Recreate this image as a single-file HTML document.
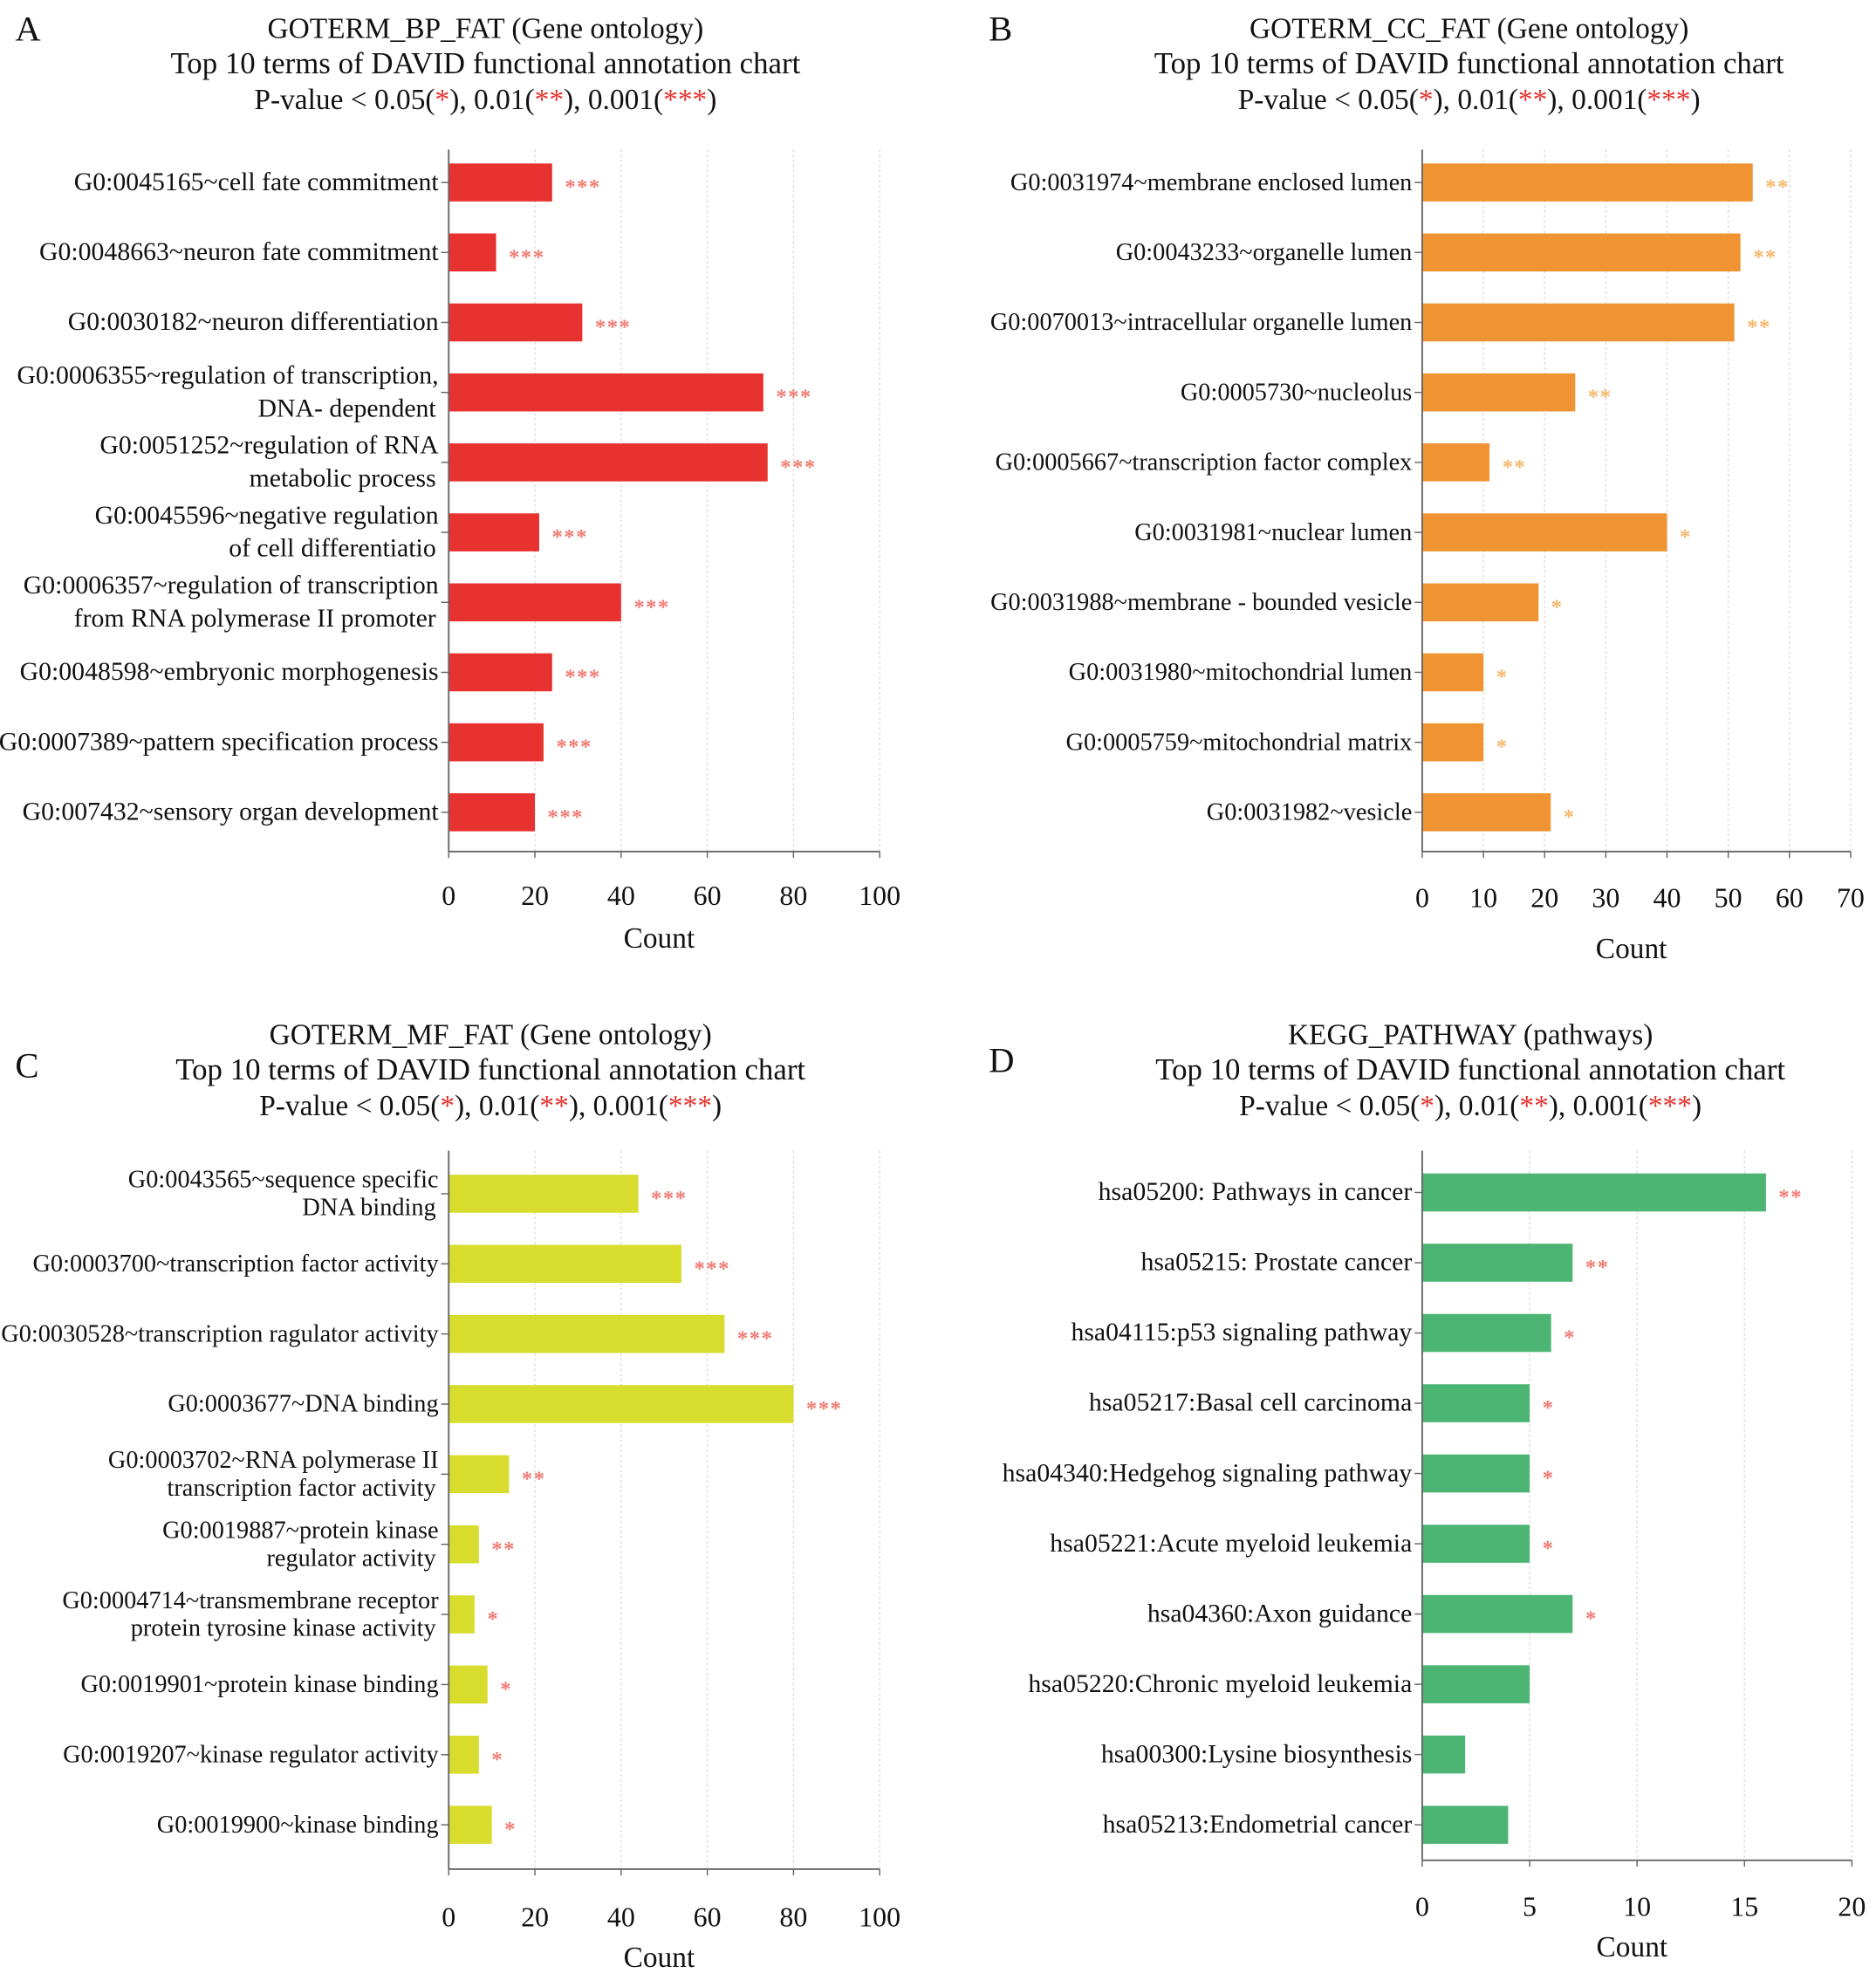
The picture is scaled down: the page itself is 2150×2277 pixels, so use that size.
<!DOCTYPE html>
<html><head><meta charset="utf-8">
<style>
html,body{margin:0;padding:0;background:#fff;}
svg{display:block;}
text{font-family:"Liberation Serif",serif;fill:#111;}
</style></head>
<body>
<svg id="fig" width="2150" height="2277" viewBox="0 0 1480 1568" preserveAspectRatio="none" xmlns="http://www.w3.org/2000/svg"></svg>
<script>
// Panel A data
const catsA = ["G0:0045165~cell fate commitment","G0:0048663~neuron fate commitment","G0:0030182~neuron differentiation","G0:0006355~regulation of transcription,\nDNA- dependent","G0:0051252~regulation of RNA\nmetabolic process","G0:0045596~negative regulation\nof cell differentiatio","G0:0006357~regulation of transcription\nfrom RNA polymerase II promoter","G0:0048598~embryonic morphogenesis","G0:0007389~pattern specification process","G0:007432~sensory organ development"];
const valsA = [24,11,31,73,74,21,40,24,22,20];
const starsA = ["***","***","***","***","***","***","***","***","***","***"];
const ticksA = [0,20,40,60,80,100];
// Panel B data
const catsB = ["G0:0031974~membrane  enclosed  lumen","G0:0043233~organelle lumen","G0:0070013~intracellular organelle lumen","G0:0005730~nucleolus","G0:0005667~transcription factor complex","G0:0031981~nuclear lumen","G0:0031988~membrane - bounded vesicle","G0:0031980~mitochondrial lumen","G0:0005759~mitochondrial matrix","G0:0031982~vesicle"];
const valsB = [54,52,51,25,11,40,19,10,10,21];
const starsB = ["**","**","**","**","**","*","*","*","*","*"];
const ticksB = [0,10,20,30,40,50,60,70];
// Panel C data
const catsC = ["G0:0043565~sequence specific\nDNA binding","G0:0003700~transcription factor activity","G0:0030528~transcription ragulator activity","G0:0003677~DNA  binding","G0:0003702~RNA polymerase II\ntranscription factor activity","G0:0019887~protein kinase\nregulator activity","G0:0004714~transmembrane receptor\nprotein tyrosine kinase activity","G0:0019901~protein kinase binding","G0:0019207~kinase regulator activity","G0:0019900~kinase binding"];
const valsC = [44,54,64,80,14,7,6,9,7,10];
const starsC = ["***","***","***","***","**","**","*","*","*","*"];
const ticksC = [0,20,40,60,80,100];
// Panel D data
const catsD = ["hsa05200: Pathways in cancer","hsa05215: Prostate cancer","hsa04115:p53 signaling pathway","hsa05217:Basal cell carcinoma","hsa04340:Hedgehog signaling pathway","hsa05221:Acute myeloid leukemia","hsa04360:Axon guidance","hsa05220:Chronic myeloid leukemia","hsa00300:Lysine biosynthesis","hsa05213:Endometrial cancer"];
const valsD = [16,7,6,5,5,5,7,5,2,4];
const starsD = ["**","**","*","*","*","*","*","","",""];
const ticksD = [0,5,10,15,20];

const NS="http://www.w3.org/2000/svg";
const svg=document.getElementById('fig');
function mk(tag,attrs,parent){const e=document.createElementNS(NS,tag);for(const k in attrs)e.setAttribute(k,attrs[k]);(parent||svg).appendChild(e);return e;}

function panel(cfg){
  const g=mk('g',{});
  
  
  const x=v=>cfg.x0+(v-cfg.min)/(cfg.max-cfg.min)*(cfg.x1-cfg.x0);
  const n=cfg.cats.length;
  const y=i=>cfg.yc0+i*(cfg.yc1-cfg.yc0)/(n-1);
  const L=mk('text',{x:cfg.lx,y:cfg.ly,'font-size':28},g);L.textContent=cfg.letter;
  
  
  const tx=cfg.tx;
  const t1=mk('text',{x:tx,y:cfg.ty,'text-anchor':'middle','font-size':23},g);t1.textContent=cfg.title;
  
  
  const t2=mk('text',{x:tx,y:cfg.ty+28,'text-anchor':'middle','font-size':24},g);t2.textContent="Top 10  terms of DAVID  functional annotation chart";
  
  
  const t3=mk('text',{x:tx,y:cfg.ty+56,'text-anchor':'middle','font-size':23},g);
  
  
  const parts=[["P-value < 0.05(",0],["*",1],["), 0.01(",0],["**",1],["), 0.001(",0],["***",1],[")",0]];
  parts.forEach(p=>{const s=mk('tspan',{},t3);s.textContent=p[0];if(p[1])s.setAttribute('style','fill:#e8322f');});
  cfg.ticks.forEach(v=>{
    if(v!==cfg.min){const gl=mk('line',{x1:x(v),x2:x(v),y1:cfg.ytop,y2:cfg.ybot,stroke:'#ddd','stroke-width':1,'stroke-dasharray':'2,2'},g);
    
    }
    const tk=mk('line',{x1:x(v),x2:x(v),y1:cfg.ybot,y2:cfg.ybot+5,stroke:'#666','stroke-width':1},g);
    
    
    const tl=mk('text',{x:x(v),y:cfg.tly,'text-anchor':'middle','font-size':22},g);tl.textContent=v;
    
    
  });
  cfg.vals.forEach((v,i)=>{
    const r=mk('rect',{x:x(cfg.min),y:y(i)-cfg.bh/2,width:x(v)-x(cfg.min),height:cfg.bh,fill:cfg.color},g);
    
    
    if(cfg.stars[i]){
      const s=mk('text',{x:x(v)+10,y:y(i)+9,'font-size':17,'font-weight':'bold','font-family':'Liberation Sans',style:'fill:'+cfg.starColor+';letter-spacing:1px'},g);s.textContent=cfg.stars[i];
      
      
    }
    const tk=mk('line',{x1:x(cfg.min)-6,x2:x(cfg.min),y1:y(i),y2:y(i),stroke:'#666','stroke-width':1},g);
    
    
    const lines=cfg.cats[i].split("\n");
    const lt=mk('text',{x:x(cfg.min)-8,y:0,'text-anchor':'end','font-size':cfg.fs},g);
    
    
    lines.forEach((ln,j)=>{const sp=mk('tspan',{x:x(cfg.min)-(lines.length>1&&j>0?10:8),y:y(i)+6+(lines.length>1?(j-0.5)*(cfg.lh):0)},lt);sp.textContent=ln;});
  });
  const ay=mk('line',{x1:x(cfg.min),x2:x(cfg.min),y1:cfg.ytop,y2:cfg.ybot,stroke:'#666','stroke-width':1.3},g);
  
  
  const ax=mk('line',{x1:x(cfg.min),x2:x(cfg.max),y1:cfg.ybot,y2:cfg.ybot,stroke:'#666','stroke-width':1.3},g);
  
  
  const xt=mk('text',{x:(x(cfg.min)+x(cfg.max))/2-4,y:cfg.cy,'text-anchor':'middle','font-size':23},g);xt.textContent="Count";
  
  
}

panel({name:'panel-a-bp',letter:'A',lx:12,ly:32,tx:383,ty:30,title:'GOTERM_BP_FAT (Gene ontology)',cats:catsA,vals:valsA,stars:starsA,ticks:ticksA,min:0,max:100,x0:354,x1:694,yc0:144,yc1:641,ytop:118,ybot:672,bh:30,tly:714,cy:748,color:'#e8322f',starColor:'#f07a72',fs:20.5,lh:26});
panel({name:'panel-b-cc',letter:'B',lx:780,ly:32,tx:1159,ty:30,title:'GOTERM_CC_FAT (Gene ontology)',cats:catsB,vals:valsB,stars:starsB,ticks:ticksB,min:0,max:70,x0:1122,x1:1460,yc0:144,yc1:641,ytop:118,ybot:672,bh:30,tly:716,cy:756,color:'#f09433',starColor:'#f5b76a',fs:19.5,lh:26});
panel({name:'panel-c-mf',letter:'C',lx:12,ly:850,tx:387,ty:824,title:'GOTERM_MF_FAT (Gene ontology)',cats:catsC,vals:valsC,stars:starsC,ticks:ticksC,min:0,max:100,x0:354,x1:694,yc0:942,yc1:1440,ytop:908,ybot:1475,bh:30,tly:1520,cy:1552,color:'#d8dc2c',starColor:'#f07a72',fs:19.5,lh:22});
panel({name:'panel-d-kegg',letter:'D',lx:780,ly:846,tx:1160,ty:824,title:'KEGG_PATHWAY (pathways)',cats:catsD,vals:valsD,stars:starsD,ticks:ticksD,min:0,max:20,x0:1122,x1:1461,yc0:941,yc1:1440,ytop:908,ybot:1468,bh:30,tly:1512,cy:1544,color:'#4cb574',starColor:'#f07a72',fs:20.5,lh:26});
</script>
</body></html>
